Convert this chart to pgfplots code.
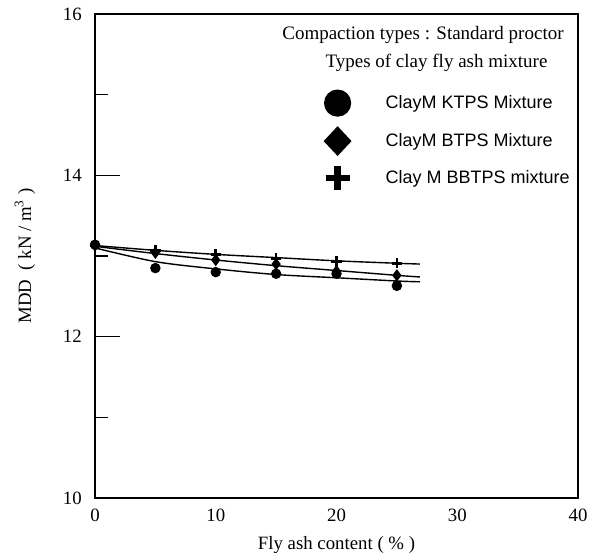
\documentclass[border=0pt]{standalone}
\usepackage{fontspec}
\setmainfont{Liberation Serif}
\newfontfamily\sansarial{Liberation Sans}
\usepackage{pgfplots}
\pgfplotsset{compat=1.18}

\begin{document}
\begin{tikzpicture}
\begin{axis}[
    name=ax,
    scale only axis,
    width=241.5pt, height=242pt,
    xmin=0, xmax=40, ymin=10, ymax=16,
    xtick={0,10,20,30,40},
    ytick={10,12,14,16},
    minor ytick={11,13,15},
    xtick pos=bottom, ytick pos=left,
    xtick style={draw=none},
    tick align=inside,
    major tick length=12.5pt,
    minor tick length=6.5pt,
    line width=0.6pt,
    tick style={line width=0.6pt, black},
    /pgf/number format/assume math mode=true,
    tick label style={font=\fontsize{9.4}{11}\selectfont},
    xticklabel style={yshift=-2pt},
    yticklabel style={xshift=-3pt},
    xlabel={Fly ash content ( \% )},
    ylabel={MDD\ \ ( kN / m\textsuperscript{3} )},
    label style={font=\fontsize{9.4}{11}\selectfont},
    xlabel style={at={(axis description cs:0.5,0)}, anchor=center, yshift=-23.5pt},
    ylabel style={at={(axis description cs:-0.145,0.5)}, anchor=center},
    legend style={at={(axis description cs:0.4596,0.844)}, anchor=north west,
        draw=none, fill=none, inner sep=0pt, row sep=5.5pt,
        font=\sansarial\fontsize{9}{11}\selectfont},
    legend cell align=left,
]
% fitted curves
\addplot[black, line width=0.7pt, smooth, forget plot] coordinates {
    (0,13.10) (5,12.93) (10,12.84) (15,12.77) (20,12.73) (25,12.69) (26.9,12.68)
};
\addplot[black, line width=0.7pt, smooth, forget plot] coordinates {
    (0,13.12) (5,13.03) (10,12.95) (15,12.88) (20,12.82) (25,12.76) (26.9,12.74)
};
\addplot[black, line width=0.7pt, smooth, forget plot] coordinates {
    (0,13.13) (5,13.07) (10,13.02) (15,12.98) (20,12.94) (25,12.91) (26.9,12.90)
};

% measured points
\addplot[only marks, mark=*, mark size=2.3pt, mark options={solid, fill=black},
    legend image code/.code={\path[draw=none] (0pt,0pt) (32pt,0pt);
        \draw[black, only marks, mark=*, mark size=6.5pt, mark options={solid, fill=black}] plot coordinates {(10pt,0pt)};}] coordinates {
    (0,13.14) (5,12.85) (10,12.80) (15,12.78) (20,12.78) (25,12.63)
};
\addlegendentry{ClayM KTPS Mixture}

\addplot[only marks, mark=diamond*, mark size=2.6pt, mark options={solid, fill=black},
    legend image code/.code={\path[draw=none] (0pt,0pt) (32pt,0pt);
        \draw[black, only marks, mark=diamond*, mark size=7pt, mark options={solid, fill=black, xscale=1.25}] plot coordinates {(10pt,0pt)};}] coordinates {
    (0,13.13) (5,13.04) (10,12.95) (15,12.90) (20,12.81) (25,12.76)
};
\addlegendentry{ClayM BTPS Mixture}

\addplot[only marks, mark=+, mark size=2.6pt, mark options={solid, line width=1.3pt},
    legend image code/.code={\path[draw=none] (0pt,0pt) (32pt,0pt);
        \draw[black, only marks, mark=+, mark size=6pt, mark options={solid, line width=3.3pt}] plot coordinates {(10pt,0pt)};}] coordinates {
    (0,13.13) (5,13.07) (10,13.02) (15,12.97) (20,12.93) (25,12.91)
};
\addlegendentry{Clay M BBTPS mixture}

\node[font=\fontsize{9.5}{11}\selectfont] at (axis cs:27.16,15.74) {Compaction types : Standard proctor};
\node[font=\fontsize{9.5}{11}\selectfont] at (axis cs:28.28,15.39) {Types of clay fly ash mixture};
\end{axis}
\pgfresetboundingbox
\path[use as bounding box] ([shift={(-47.5pt,-29.5pt)}]ax.south west) rectangle ([shift={(9pt,7pt)}]ax.north east);
\end{tikzpicture}
\end{document}
